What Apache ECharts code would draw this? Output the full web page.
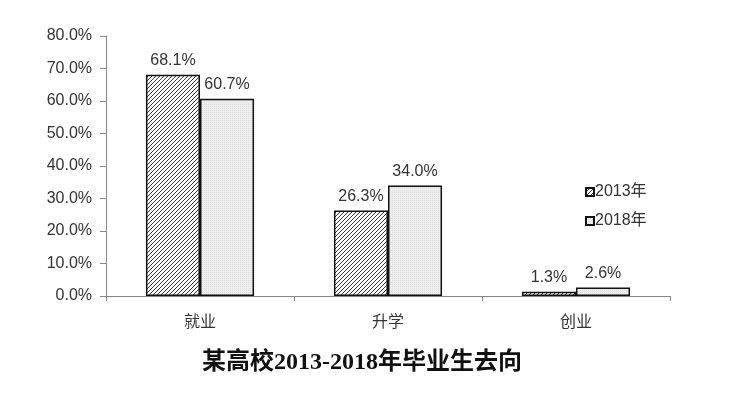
<!DOCTYPE html>
<html><head><meta charset="utf-8">
<script src="https://cdn.jsdelivr.net/npm/echarts@6/dist/echarts.min.js"></script>
<style>html,body{margin:0;padding:0;background:#fff}#c{width:734px;height:394px}</style>
</head><body><div id="c"></div>
<script>
const categories = ['就业', '升学', '创业'];
const values2013 = [68.1, 26.3, 1.3];
const values2018 = [60.7, 34.0, 2.6];
const seriesNames = ['2013年', '2018年'];
const chartTitle = '某高校2013-2018年毕业生去向';

function hatch() {
  const c = document.createElement('canvas');
  c.width = 4; c.height = 4;
  const g = c.getContext('2d');
  g.fillStyle = '#fff'; g.fillRect(0, 0, 4, 4);
  g.strokeStyle = '#222'; g.lineWidth = 0.9;
  g.beginPath();
  g.moveTo(0, 4); g.lineTo(4, 0);
  g.moveTo(-1, 1); g.lineTo(1, -1);
  g.moveTo(3, 5); g.lineTo(5, 3);
  g.stroke();
  return c;
}
function dots() {
  const c = document.createElement('canvas');
  c.width = 2; c.height = 2;
  const g = c.getContext('2d');
  g.fillStyle = '#ededed'; g.fillRect(0, 0, 2, 2);
  g.fillStyle = '#e0e0e0'; g.fillRect(0, 0, 1, 1);
  return c;
}

const chart = echarts.init(document.getElementById('c'));
const labelStyle = { show: true, position: 'top', distance: 6, color: '#333', fontSize: 16, fontFamily: 'Liberation Sans, Arial, sans-serif', formatter: p => p.value.toFixed(1) + '%' };
chart.setOption({
  animation: false,
  title: { text: chartTitle, left: 357, top: 346, textAlign: 'center',
    textStyle: { fontSize: 24, fontWeight: 'bold', color: '#111', fontFamily: 'Liberation Serif, Noto Sans CJK SC, serif' } },
  legend: { orient: 'vertical', left: 580, top: 179, itemWidth: 8, itemHeight: 8, itemGap: 13,
    icon: 'rect', textStyle: { fontSize: 16, color: '#333', padding: [0, 0, 0, -4], fontFamily: 'Liberation Sans, Noto Sans CJK SC, sans-serif' },
    data: seriesNames },
  grid: { left: 106, right: 64, top: 36, bottom: 98 },
  xAxis: { type: 'category', data: categories,
    axisLine: { lineStyle: { color: '#888', width: 1 } },
    axisTick: { show: true, length: 5, lineStyle: { color: '#888' } },
    axisLabel: { color: '#333', fontSize: 16, margin: 17, fontFamily: 'Noto Sans CJK SC, sans-serif' } },
  yAxis: { type: 'value', min: 0, max: 80, interval: 10,
    splitLine: { show: false },
    axisLine: { show: true, lineStyle: { color: '#888', width: 1 } },
    axisTick: { show: true, length: 6, lineStyle: { color: '#888' } },
    axisLabel: { color: '#333', fontSize: 16, margin: 14, fontFamily: 'Liberation Sans, Arial, sans-serif', formatter: v => v.toFixed(1) + '%' } },
  series: [
    { name: seriesNames[0], type: 'bar', data: values2013, barGap: '0%', barCategoryGap: '42.5%',
      itemStyle: { color: { image: hatch(), repeat: 'repeat' }, borderColor: '#111', borderWidth: 1.5 },
      label: labelStyle },
    { name: seriesNames[1], type: 'bar', data: values2018,
      itemStyle: { color: { image: dots(), repeat: 'repeat' }, borderColor: '#111', borderWidth: 1.5 },
      label: labelStyle }
  ]
});
</script></body></html>
